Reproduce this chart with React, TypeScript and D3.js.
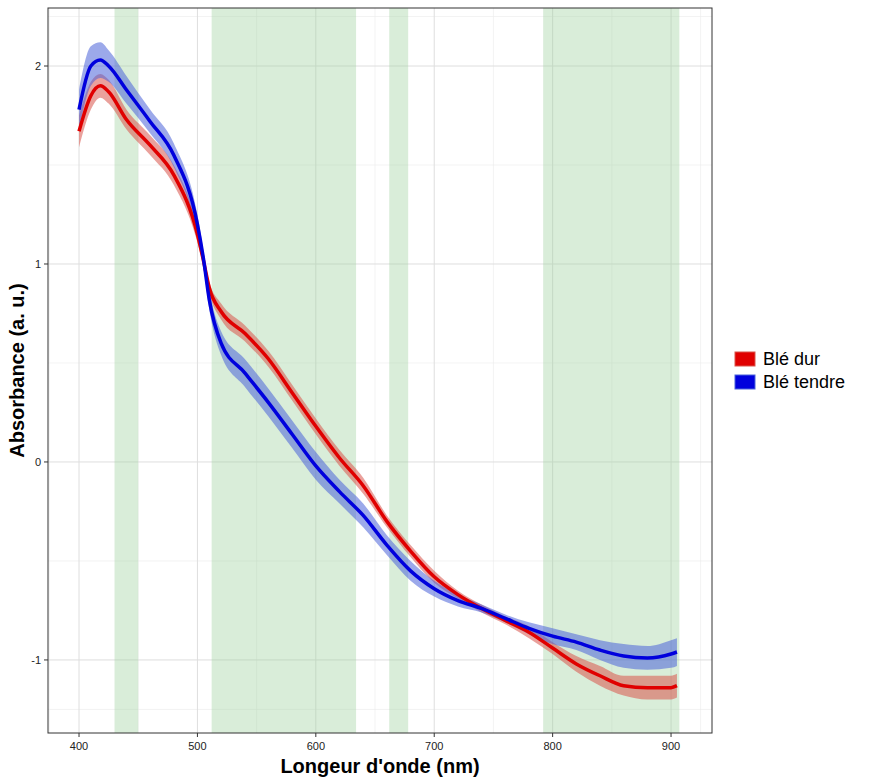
import React from 'react';
import * as d3 from 'd3';

const wavelengths = [400, 410, 418, 425, 440, 460, 480, 500, 505, 510, 520, 540, 560, 580, 600, 620, 640, 660, 680, 700, 720, 740, 760, 780, 800, 820, 840, 860, 880, 900, 905];
const durValues = [1.67, 1.85, 1.90, 1.87, 1.73, 1.60, 1.45, 1.15, 1.02, 0.88, 0.76, 0.65, 0.52, 0.35, 0.18, 0.02, -0.12, -0.30, -0.45, -0.58, -0.67, -0.74, -0.80, -0.86, -0.94, -1.02, -1.08, -1.13, -1.14, -1.14, -1.13];
const durSpread = [0.08, 0.07, 0.06, 0.06, 0.05, 0.05, 0.05, 0.04, 0.03, 0.03, 0.04, 0.04, 0.04, 0.04, 0.04, 0.04, 0.04, 0.03, 0.03, 0.03, 0.02, 0.02, 0.02, 0.03, 0.03, 0.04, 0.05, 0.05, 0.06, 0.06, 0.06];
const tendreValues = [1.78, 2.00, 2.03, 2.00, 1.88, 1.72, 1.55, 1.20, 1.03, 0.82, 0.60, 0.45, 0.30, 0.14, -0.02, -0.15, -0.27, -0.42, -0.55, -0.64, -0.70, -0.74, -0.79, -0.84, -0.88, -0.91, -0.95, -0.98, -0.99, -0.97, -0.96];
const tendreSpread = [0.10, 0.10, 0.09, 0.08, 0.07, 0.06, 0.06, 0.05, 0.04, 0.05, 0.06, 0.07, 0.07, 0.07, 0.07, 0.06, 0.06, 0.05, 0.05, 0.04, 0.03, 0.02, 0.02, 0.03, 0.04, 0.04, 0.05, 0.06, 0.06, 0.07, 0.07];
const bands: [number, number][] = [[430, 450], [512, 634], [662, 678], [792, 907]];
const xTicks = [400, 500, 600, 700, 800, 900];
const yTicks = [-1, 0, 1, 2];
const series = [
  { name: 'Blé dur', values: durValues, spread: durSpread, line: '#e00000', fill: '#d9544a' },
  { name: 'Blé tendre', values: tendreValues, spread: tendreSpread, line: '#0000dd', fill: '#4a62d9' },
];

export default function App() {
  const width = 869, height = 783;
  const m = { left: 48, right: 157, top: 8, bottom: 50 };
  const x = d3.scaleLinear().domain([373.8, 934.6]).range([m.left, width - m.right]);
  const y = d3.scaleLinear().domain([-1.369, 2.293]).range([height - m.bottom, m.top]);
  const idx = wavelengths.map((_, i) => i);
  const minor = (t: number[], s: (v: number) => number) => t.slice(0, -1).map((v, i) => s((v + t[i + 1]) / 2));

  return (
    <svg width={width} height={height} style={{ position: 'absolute', left: 0, top: 0, fontFamily: 'Liberation Sans, Arial, sans-serif' }}>
      <rect width={width} height={height} fill="white" />
      {[x(350), ...minor([350, ...xTicks, 950], x)].filter(v => v > m.left && v < width - m.right).map((v, i) => (
        <line key={'mx' + i} x1={v} x2={v} y1={m.top} y2={height - m.bottom} stroke="#ebebeb" strokeWidth={0.6} />
      ))}
      {minor([-1.5, ...yTicks, 2.5], y).filter(v => v > m.top && v < height - m.bottom).map((v, i) => (
        <line key={'my' + i} x1={m.left} x2={width - m.right} y1={v} y2={v} stroke="#ebebeb" strokeWidth={0.6} />
      ))}
      {xTicks.map(t => <line key={'gx' + t} x1={x(t)} x2={x(t)} y1={m.top} y2={height - m.bottom} stroke="#dedede" strokeWidth={1} />)}
      {yTicks.map(t => <line key={'gy' + t} x1={m.left} x2={width - m.right} y1={y(t)} y2={y(t)} stroke="#dedede" strokeWidth={1} />)}
      {bands.map(([a, b], i) => (
        <rect key={'b' + i} x={x(a)} width={x(b) - x(a)} y={m.top} height={height - m.bottom - m.top} fill="#9fd39f" opacity={0.4} />
      ))}
      {series.map(s => {
        const area = d3.area<number>().x(i => x(wavelengths[i])).y0(i => y(s.values[i] - s.spread[i])).y1(i => y(s.values[i] + s.spread[i])).curve(d3.curveMonotoneX);
        return <path key={'a' + s.name} d={area(idx) || ''} fill={s.fill} opacity={0.55} />;
      })}
      {series.map(s => {
        const line = d3.line<number>().x(i => x(wavelengths[i])).y(i => y(s.values[i])).curve(d3.curveMonotoneX);
        return <path key={'l' + s.name} d={line(idx) || ''} fill="none" stroke={s.line} strokeWidth={3.5} />;
      })}
      <rect x={m.left} y={m.top} width={width - m.left - m.right} height={height - m.top - m.bottom} fill="none" stroke="#333" strokeWidth={1} />
      {xTicks.map(t => (
        <g key={'tx' + t}>
          <line x1={x(t)} x2={x(t)} y1={height - m.bottom} y2={height - m.bottom + 4} stroke="#333" />
          <text x={x(t)} y={height - m.bottom + 17} textAnchor="middle" fontSize={11} fill="#222">{t}</text>
        </g>
      ))}
      {yTicks.map(t => (
        <g key={'ty' + t}>
          <line x1={m.left - 4} x2={m.left} y1={y(t)} y2={y(t)} stroke="#333" />
          <text x={m.left - 7} y={y(t) + 4} textAnchor="end" fontSize={11} fill="#222">{t}</text>
        </g>
      ))}
      <text x={(m.left + width - m.right) / 2} y={773} textAnchor="middle" fontSize={20} fontWeight="bold">Longeur d'onde (nm)</text>
      <text transform={`translate(24,${(m.top + height - m.bottom) / 2}) rotate(-90)`} textAnchor="middle" fontSize={20} fontWeight="bold">Absorbance (a. u.)</text>
      {series.map((s, i) => (
        <g key={'lg' + s.name} transform={`translate(735,${352 + i * 23})`}>
          <rect width={20} height={14} fill={s.line} stroke={s.fill} />
          <text x={28} y={13} fontSize={18}>{s.name}</text>
        </g>
      ))}
    </svg>
  );
}
